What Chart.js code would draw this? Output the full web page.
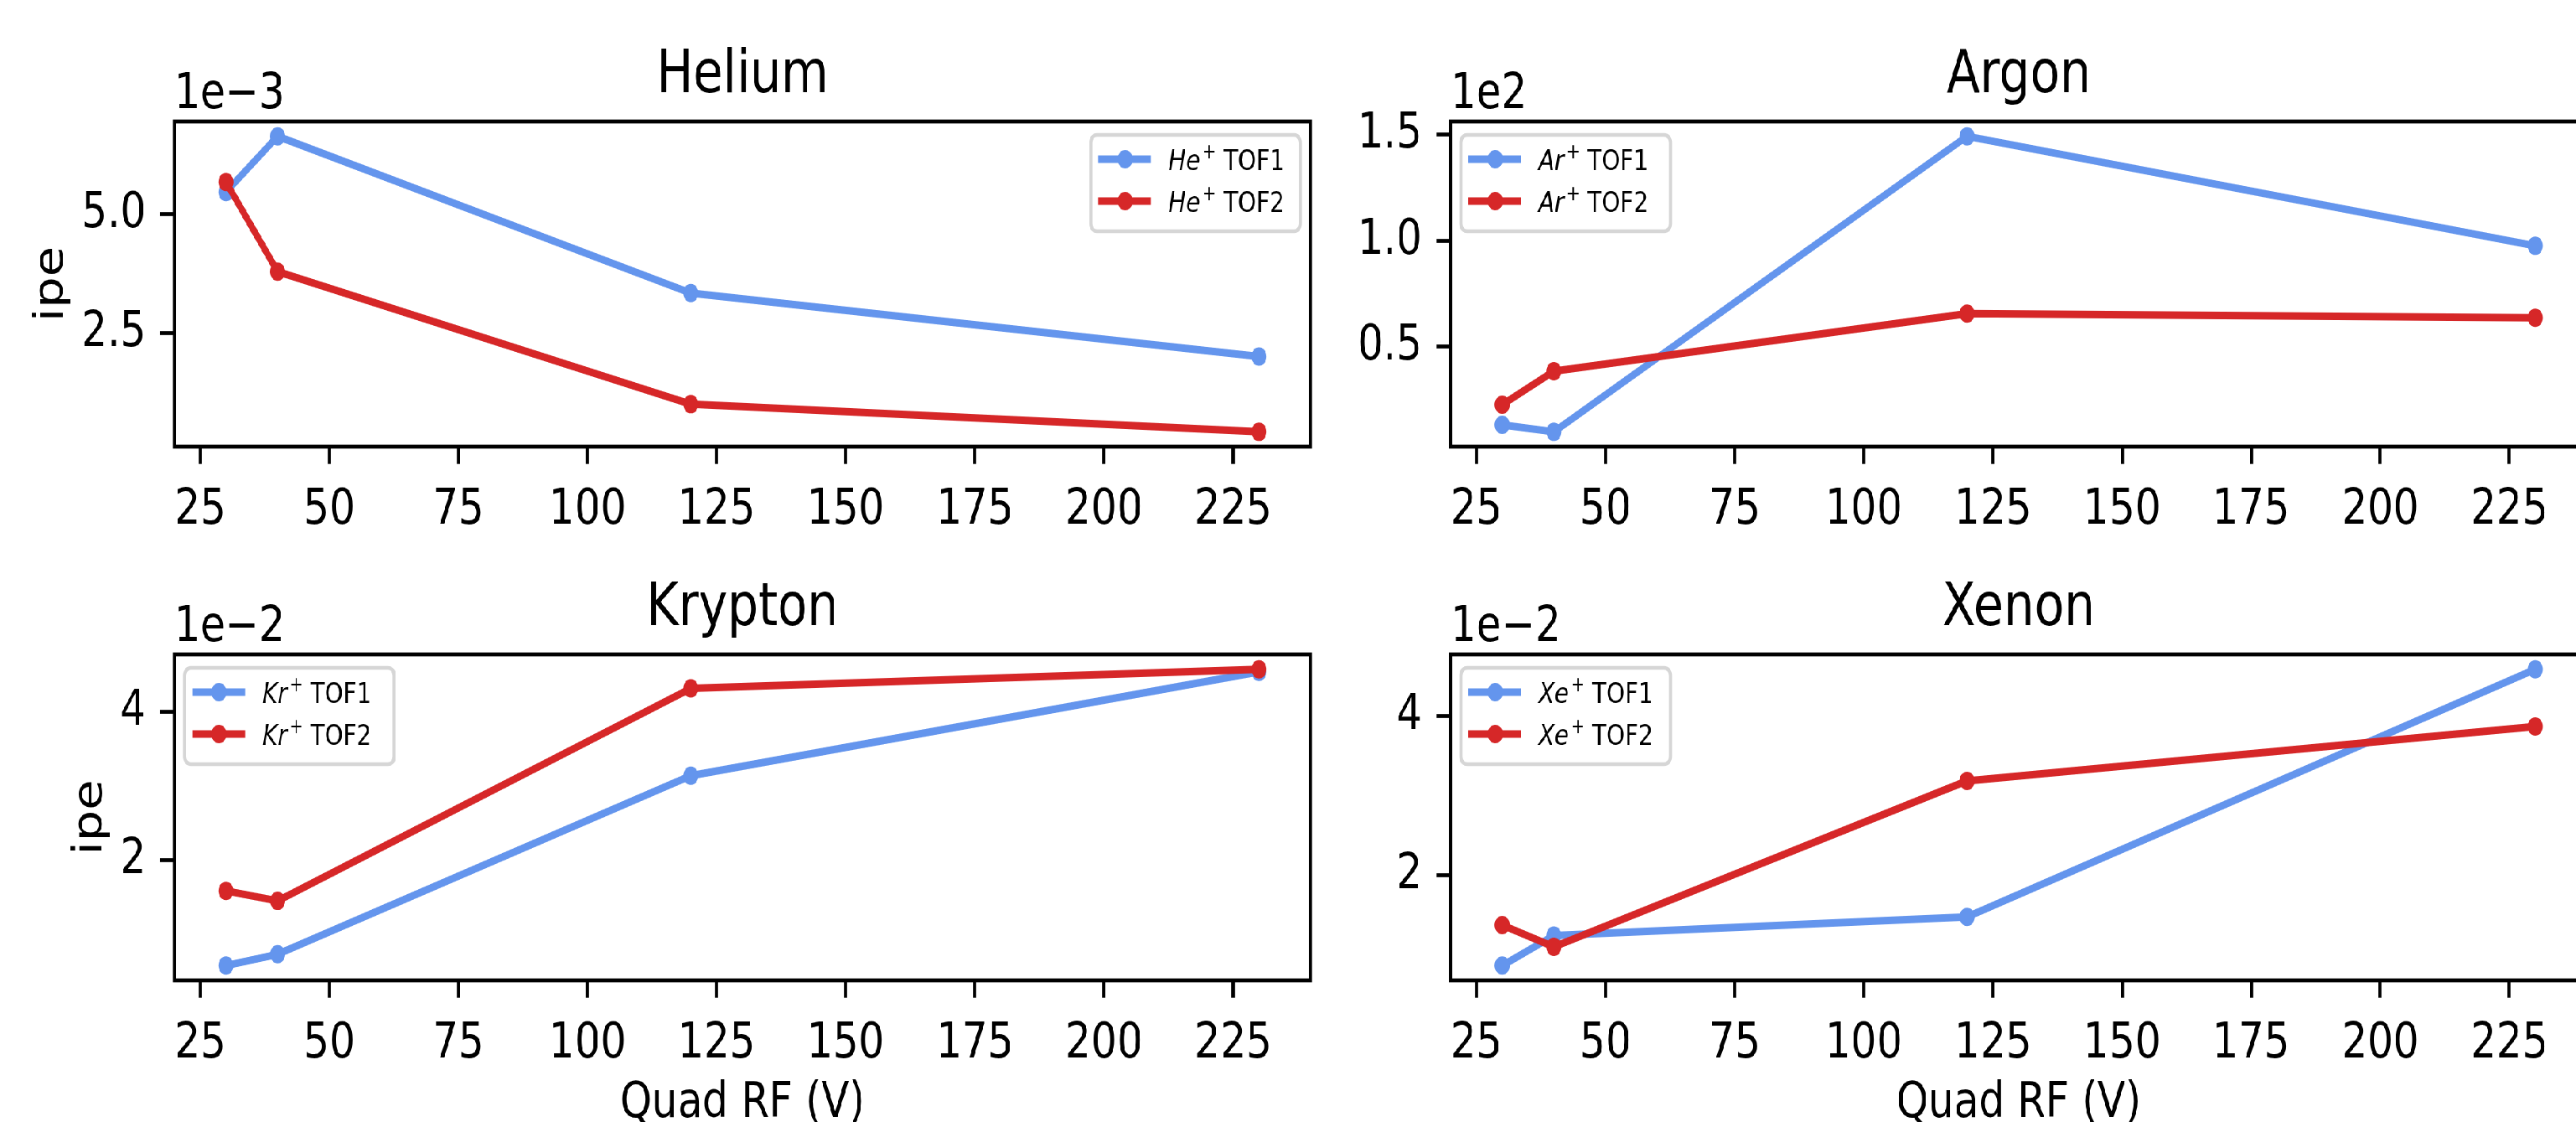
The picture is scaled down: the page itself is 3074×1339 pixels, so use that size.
<!DOCTYPE html>
<html>
<head>
<meta charset="utf-8">
<script src="https://cdn.jsdelivr.net/npm/chart.js@4/dist/chart.umd.min.js"></script>
<style>
  html, body { margin: 0; padding: 0; background: #fff; overflow: hidden; }
  #fig { position: relative; height: 1339px; transform-origin: 0 0; }
  #fig canvas { position: absolute; }
</style>
</head>
<body>
<div id="fig"></div>
<script>
// data
const rfVoltage = [30, 40, 120, 230];
const xTicks = [25, 50, 75, 100, 125, 150, 175, 200, 225];

const gasNames = ['Helium', 'Argon', 'Krypton', 'Xenon'];
const ionNames = ['He', 'Ar', 'Kr', 'Xe'];
const seriesNames = ['TOF1', 'TOF2'];
const offsetTexts = ['1e\u22123', '1e2', '1e\u22122', '1e\u22122'];

const heTof1 = [5.46, 6.63, 3.34, 2.01];
const heTof2 = [5.67, 3.79, 1.01, 0.43];
const arTof1 = [0.131, 0.098, 1.493, 0.976];
const arTof2 = [0.226, 0.384, 0.656, 0.636];
const krTof1 = [0.584, 0.736, 3.14, 4.54];
const krTof2 = [1.59, 1.455, 4.316, 4.574];
const xeTof1 = [0.866, 1.243, 1.478, 4.588];
const xeTof2 = [1.374, 1.10, 3.186, 3.868];

const heYTicks = [2.5, 5.0];
const heYLabels = ['2.5', '5.0'];
const arYTicks = [0.5, 1.0, 1.5];
const arYLabels = ['0.5', '1.0', '1.5'];
const krYTicks = [2, 4];
const krYLabels = ['2', '4'];
const xeYTicks = [2, 4];
const xeYLabels = ['2', '4'];

// the reference is squeezed horizontally; draw wide then squeeze
const K = 0.82;
const VW = 3074 / K;
const vx = x => x / K;
const BLUE = '#6495ed';
const RED = '#d62728';
const FONT = "'DejaVu Sans'";
const LW = 4.7;      // spine / tick width
const TICKLEN = 20.7;
const PAD = 20.7;

const fig = document.getElementById('fig');
fig.style.width = VW + 'px';
fig.style.transform = 'scaleX(' + K + ')';

function limits(arrs) {
  const all = [].concat(...arrs);
  const lo = Math.min(...all), hi = Math.max(...all);
  const m = (hi - lo) * 0.05;
  return [lo - m, hi + m];
}

const axW = vx(1564) - vx(208);
const panels = [
  { i: 0, t1: heTof1, t2: heTof2, ticks: heYTicks, labels: heYLabels,
    cv: { x: 0, y: 0, w: 2000, h: 660 }, ax: { l: vx(208), t: 145, b: 533 },
    legend: 'right', ylabel: true, xlabel: false },
  { i: 1, t1: arTof1, t2: arTof2, ticks: arYTicks, labels: arYLabels,
    cv: { x: 1915, y: 0, w: 1900, h: 660 }, ax: { l: vx(1731), t: 145, b: 533 },
    legend: 'left', ylabel: false, xlabel: false },
  { i: 2, t1: krTof1, t2: krTof2, ticks: krYTicks, labels: krYLabels,
    cv: { x: 0, y: 660, w: 2000, h: 679 }, ax: { l: vx(208), t: 781, b: 1170 },
    legend: 'left', ylabel: true, xlabel: true },
  { i: 3, t1: xeTof1, t2: xeTof2, ticks: xeYTicks, labels: xeYLabels,
    cv: { x: 1915, y: 660, w: 1900, h: 679 }, ax: { l: vx(1731), t: 781, b: 1170 },
    legend: 'left', ylabel: false, xlabel: true }
];

const decorPlugin = {
  id: 'decor',
  afterDraw(chart) {
    const p = chart.options.plugins.decor;
    const ctx = chart.ctx;
    const a = chart.chartArea;
    ctx.save();
    // spines
    ctx.strokeStyle = '#000';
    ctx.lineWidth = LW;
    ctx.strokeRect(a.left, a.top, a.right - a.left, a.bottom - a.top);

    ctx.fillStyle = '#000';
    // title
    ctx.font = '71px ' + FONT;
    ctx.textAlign = 'center';
    ctx.textBaseline = 'alphabetic';
    ctx.fillText(p.title, (a.left + a.right) / 2, a.top - 35);
    // offset text
    ctx.font = '59px ' + FONT;
    ctx.textAlign = 'left';
    ctx.fillText(p.offset, a.left, a.top - 16);
    // x label
    if (p.xlabel) {
      ctx.textAlign = 'center';
      ctx.fillText('Quad RF (V)', (a.left + a.right) / 2, a.bottom + 163);
    }
    // y label
    if (p.ylabel) {
      let wmax = 0;
      p.tickLabels.forEach(t => { wmax = Math.max(wmax, ctx.measureText(t).width); });
      const bx = a.left - TICKLEN - PAD - wmax - 27;
      ctx.translate(bx, (a.top + a.bottom) / 2);
      ctx.rotate(-Math.PI / 2);
      ctx.textAlign = 'center';
      ctx.fillText('ipe', 0, 0);
      ctx.setTransform(1, 0, 0, 1, 0, 0);
    }
    // legend
    const bw = 305, bh = 115;
    const x0 = p.legend === 'right' ? a.right - 15 - bw : a.left + 15;
    const y0 = a.top + 16;
    ctx.beginPath();
    ctx.roundRect(x0, y0, bw, bh, 9);
    ctx.fillStyle = 'rgba(255,255,255,0.8)';
    ctx.fill();
    ctx.strokeStyle = '#d6d6d6';
    ctx.lineWidth = LW;
    ctx.stroke();
    chart.data.datasets.forEach((ds, k) => {
      const cy = y0 + 29 + k * 50;
      ctx.strokeStyle = ds.borderColor;
      ctx.lineWidth = 9;
      ctx.beginPath();
      ctx.moveTo(x0 + 11, cy);
      ctx.lineTo(x0 + 88, cy);
      ctx.stroke();
      ctx.fillStyle = ds.borderColor;
      ctx.beginPath();
      ctx.arc(x0 + 50, cy, 11, 0, Math.PI * 2);
      ctx.fill();
      ctx.fillStyle = '#000';
      ctx.textAlign = 'left';
      let tx = x0 + 113;
      const by = cy + 13;
      ctx.font = 'italic 34px ' + FONT;
      ctx.fillText(p.ion, tx, by);
      tx += ctx.measureText(p.ion).width + 3;
      ctx.font = '24px ' + FONT;
      ctx.fillText('+', tx, by - 14);
      tx += ctx.measureText('+').width;
      ctx.font = '34px ' + FONT;
      ctx.fillText(' ' + seriesNames[k], tx, by);
    });
    ctx.restore();
  }
};

panels.forEach(pn => {
  const c = document.createElement('canvas');
  c.width = pn.cv.w;
  c.height = pn.cv.h;
  c.style.left = pn.cv.x + 'px';
  c.style.top = pn.cv.y + 'px';
  fig.appendChild(c);

  const axL = pn.ax.l - pn.cv.x;
  const axR = axL + axW;
  const axT = pn.ax.t - pn.cv.y;
  const axB = pn.ax.b - pn.cv.y;
  const [xmin, xmax] = limits([rfVoltage]);
  const [ymin, ymax] = limits([pn.t1, pn.t2]);
  const ion = ionNames[pn.i];

  const mk = (vals, color, k, order) => ({
    label: ion + '+ ' + seriesNames[k],
    data: rfVoltage.map((x, j) => ({ x: x, y: vals[j] })),
    borderColor: color,
    backgroundColor: color,
    pointBackgroundColor: color,
    pointBorderWidth: 0,
    pointRadius: 11,
    borderWidth: 9,
    borderJoinStyle: 'round',
    tension: 0,
    order: order
  });

  const tickStyle = {
    display: true,
    drawOnChartArea: false,
    drawTicks: true,
    tickLength: TICKLEN,
    tickWidth: LW,
    tickColor: '#000'
  };

  new Chart(c, {
    type: 'line',
    data: { datasets: [mk(pn.t1, BLUE, 0, 1), mk(pn.t2, RED, 1, 0)] },
    options: {
      responsive: false,
      devicePixelRatio: 1,
      animation: false,
      events: [],
      layout: { padding: { left: 0, top: axT, right: pn.cv.w - axR, bottom: pn.cv.h - axB - 100 } },
      scales: {
        x: {
          type: 'linear', min: xmin, max: xmax,
          afterBuildTicks: s => { s.ticks = xTicks.map(v => ({ value: v })); },
          afterFit: s => { s.height = 100; },
          grid: tickStyle,
          border: { display: false },
          ticks: { autoSkip: false, maxRotation: 0, minRotation: 0, padding: PAD, color: '#000',
                   font: { family: FONT, size: 59 }, callback: v => String(v) }
        },
        y: {
          type: 'linear', min: ymin, max: ymax,
          afterBuildTicks: s => { s.ticks = pn.ticks.map(v => ({ value: v })); },
          afterFit: s => { s.width = axL; },
          grid: tickStyle,
          border: { display: false },
          ticks: { autoSkip: false, padding: PAD, color: '#000',
                   font: { family: FONT, size: 59 },
                   callback: v => pn.labels[pn.ticks.indexOf(v)] }
        }
      },
      plugins: {
        legend: { display: false },
        tooltip: { enabled: false },
        decor: {
          title: gasNames[pn.i], offset: offsetTexts[pn.i], ion: ion,
          legend: pn.legend, ylabel: pn.ylabel, xlabel: pn.xlabel, tickLabels: pn.labels
        }
      }
    },
    plugins: [decorPlugin]
  });
});
</script>
</body>
</html>
